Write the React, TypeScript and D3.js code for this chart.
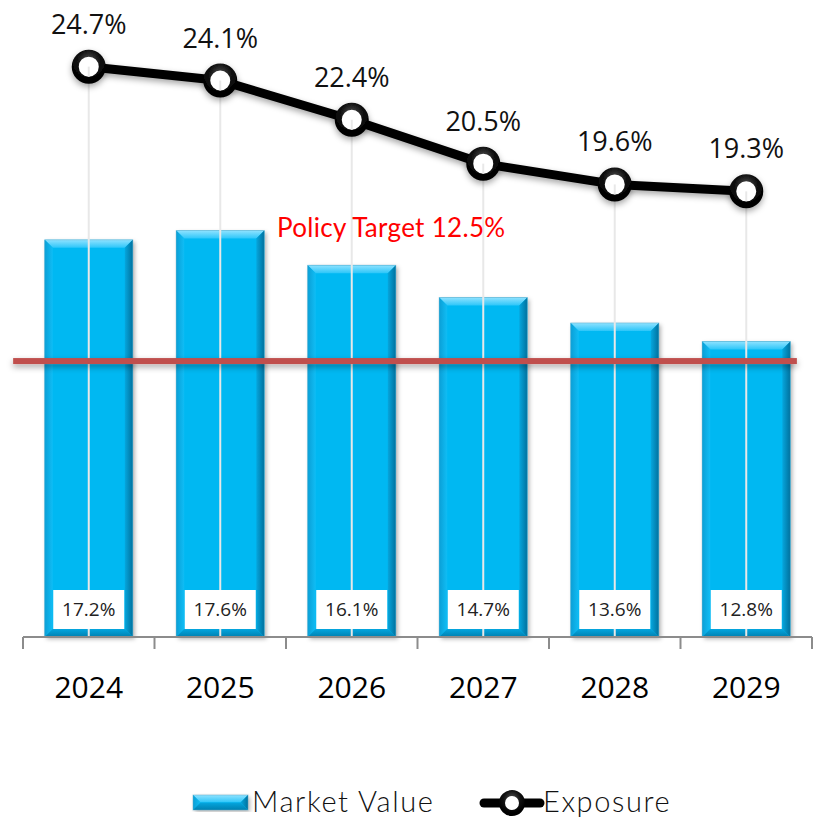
import React from 'react';
import * as d3 from 'd3';

const years = ['2024', '2025', '2026', '2027', '2028', '2029'];
const marketValue = [17.2, 17.6, 16.1, 14.7, 13.6, 12.8];
const exposure = [24.7, 24.1, 22.4, 20.5, 19.6, 19.3];
const policyTargetLabel = 'Policy Target 12.5%';
const policyLineLevel = 11.95;
const yDomain = [0, 27.5];
const seriesNames = ['Market Value', 'Exposure'];

const W = 815;
const H = 823;
const plot = { left: 23, right: 812, top: 2, bottom: 637 };

const x = d3.scaleBand<string>().domain(years).range([plot.left, plot.right]).padding(0);
const y = d3.scaleLinear().domain(yDomain).range([plot.bottom, plot.top]);
const band = x.bandwidth();
const barW = band * 0.67;
const bevel = 8;

const numFont = "'Segoe UI', 'Open Sans', sans-serif";
const titleFont = "'Gill Sans', Lato, sans-serif";

function BevelBar({ x0, y0, w, h }: { x0: number; y0: number; w: number; h: number }) {
  const b = Math.min(bevel, h / 2, w / 2);
  const x1 = x0 + w;
  const y1 = y0 + h;
  return (
    <g>
      <rect x={x0} y={y0} width={w} height={h} fill="#00B8F2" filter="url(#barShadow)" />
      <polygon points={`${x0},${y0} ${x1},${y0} ${x1 - b},${y0 + b} ${x0 + b},${y0 + b}`} fill="url(#bevTop)" />
      <polygon points={`${x0},${y0} ${x0 + b},${y0 + b} ${x0 + b},${y1 - b} ${x0},${y1}`} fill="url(#bevLeft)" />
      <polygon points={`${x1},${y0} ${x1},${y1} ${x1 - b},${y1 - b} ${x1 - b},${y0 + b}`} fill="url(#bevRight)" />
      <polygon points={`${x0},${y1} ${x0 + b},${y1 - b} ${x1 - b},${y1 - b} ${x1},${y1}`} fill="url(#bevBottom)" />
      <rect x={x0} y={y0} width={w} height={h} fill="none" stroke="#5aa9c8" strokeWidth={0.8} strokeOpacity={0.6} />
    </g>
  );
}

export default function App() {
  const line = d3
    .line<number>()
    .x((_, i) => (x(years[i]) as number) + band / 2)
    .y((d) => y(d));

  const policyY = y(policyLineLevel);
  const policyX0 = plot.left - band * 0.075;
  const policyX1 = plot.right - band * 0.115;

  return (
    <svg
      width={W}
      height={H}
      viewBox={`0 0 ${W} ${H}`}
      style={{ position: 'absolute', left: 0, top: 0, display: 'block', background: '#fff' }}
    >
      <defs>
        <linearGradient id="bevTop" x1="0" y1="0" x2="0" y2="1">
          <stop offset="0" stopColor="#8fe2ff" />
          <stop offset="1" stopColor="#2cc6f9" />
        </linearGradient>
        <linearGradient id="bevLeft" x1="0" y1="0" x2="1" y2="0">
          <stop offset="0" stopColor="#0a9fd6" />
          <stop offset="1" stopColor="#10bdf5" />
        </linearGradient>
        <linearGradient id="bevRight" x1="0" y1="0" x2="1" y2="0">
          <stop offset="0" stopColor="#06a6dd" />
          <stop offset="1" stopColor="#00719e" />
        </linearGradient>
        <linearGradient id="bevBottom" x1="0" y1="0" x2="0" y2="1">
          <stop offset="0" stopColor="#04a6df" />
          <stop offset="1" stopColor="#0080b0" />
        </linearGradient>
        <filter id="barShadow" x="-20%" y="-10%" width="140%" height="120%">
          <feDropShadow dx="2" dy="2" stdDeviation="2" floodColor="#000" floodOpacity="0.3" />
        </filter>
        <filter id="lineShadow" filterUnits="userSpaceOnUse" x="0" y="0" width={W} height={H}>
          <feDropShadow dx="0" dy="3" stdDeviation="3" floodColor="#000" floodOpacity="0.35" />
        </filter>
        <radialGradient id="ringGloss" cx="0.5" cy="0.3" r="0.7">
          <stop offset="0" stopColor="#555" />
          <stop offset="0.6" stopColor="#111" />
          <stop offset="1" stopColor="#000" />
        </radialGradient>
      </defs>

      {/* bars */}
      {marketValue.map((v, i) => {
        const cx = (x(years[i]) as number) + band / 2;
        return <BevelBar key={years[i]} x0={cx - barW / 2} y0={y(v)} w={barW} h={y(0) - y(v)} />;
      })}

      {/* drop lines */}
      {exposure.map((v, i) => {
        const cx = (x(years[i]) as number) + band / 2;
        return <line key={'d' + i} x1={cx} x2={cx} y1={y(v)} y2={y(0)} stroke="#e8e8e8" strokeWidth={2} />;
      })}

      {/* policy line */}
      <rect
        x={policyX0}
        y={policyY - 3}
        width={policyX1 - policyX0}
        height={6}
        fill="#C0504D"
        filter="url(#lineShadow)"
      />
      <text
        x={(x('2026') as number) + band * 0.8}
        y={policyY - 124}
        textAnchor="middle"
        fill="#FF0000"
        fontFamily={titleFont}
        fontWeight={400}
        fontSize={26}
        letterSpacing={0.3}
      >
        {policyTargetLabel}
      </text>

      {/* bar value boxes */}
      {marketValue.map((v, i) => {
        const cx = (x(years[i]) as number) + band / 2;
        return (
          <g key={'b' + i}>
            <rect x={cx - 35.5} y={y(0) - 47} width={71} height={39} fill="#fff" />
            <text x={cx} y={y(0) - 21} textAnchor="middle" fontFamily={numFont} fontSize={19} fill="#222">
              {v.toFixed(1)}%
            </text>
          </g>
        );
      })}

      {/* axis */}
      <line x1={plot.left} x2={plot.right} y1={y(0)} y2={y(0)} stroke="#8c8c8c" strokeWidth={2} />
      {years.concat(['end']).map((yr, i) => {
        const tx = plot.left + i * band;
        return <line key={'t' + i} x1={tx} x2={tx} y1={y(0)} y2={y(0) + 12} stroke="#8c8c8c" strokeWidth={2} />;
      })}
      {years.map((yr) => (
        <text
          key={'l' + yr}
          x={(x(yr) as number) + band / 2}
          y={y(0) + 61}
          textAnchor="middle"
          fontFamily={numFont}
          fontSize={30}
          fill="#000"
        >
          {yr}
        </text>
      ))}

      {/* exposure line */}
      <path
        d={line(exposure) || ''}
        fill="none"
        stroke="#000"
        strokeWidth={9}
        strokeLinejoin="round"
        filter="url(#lineShadow)"
      />
      {exposure.map((v, i) => {
        const cx = (x(years[i]) as number) + band / 2;
        return (
          <g key={'m' + i}>
            <circle cx={cx} cy={y(v)} r={13.5} fill="#fff" stroke="url(#ringGloss)" strokeWidth={7} filter="url(#lineShadow)" />
            <line x1={cx} x2={cx} y1={y(v)} y2={y(v) + 10} stroke="#e8e8e8" strokeWidth={2} />
            <text x={cx} y={y(v) - 33} textAnchor="middle" fontFamily={numFont} fontSize={27} fill="#111">
              {v.toFixed(1)}%
            </text>
          </g>
        );
      })}

      {/* legend */}
      <g>
        <BevelBar x0={193} y0={795} w={55} h={15} />
        <text x={252} y={812} fontFamily={titleFont} fontWeight={300} fontSize={29} letterSpacing={1.6} fill="#111">
          {seriesNames[0]}
        </text>
        <line x1={484} x2={540} y1={803} y2={803} stroke="#000" strokeWidth={9} strokeLinecap="round" />
        <circle cx={512} cy={803} r={10} fill="#fff" stroke="url(#ringGloss)" strokeWidth={6} />
        <text x={543} y={812} fontFamily={titleFont} fontWeight={300} fontSize={29} letterSpacing={1.6} fill="#111">
          {seriesNames[1]}
        </text>
      </g>
    </svg>
  );
}
